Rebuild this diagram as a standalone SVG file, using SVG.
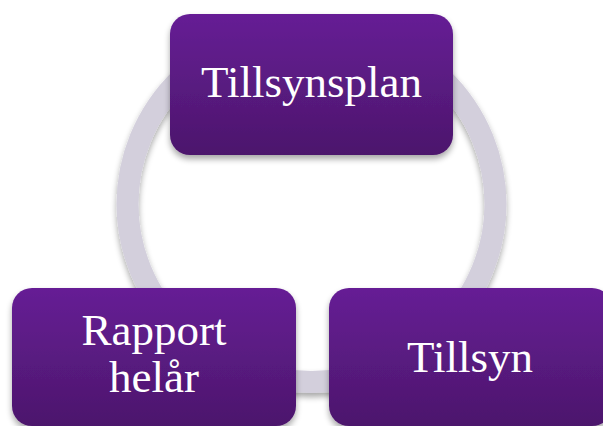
<svg xmlns="http://www.w3.org/2000/svg" width="603" height="426" viewBox="0 0 603 426">
<defs>
<linearGradient id="boxGrad" x1="0" y1="0" x2="0" y2="1">
<stop offset="0" stop-color="#661f95"/>
<stop offset="1" stop-color="#4c166c"/>
</linearGradient>
<filter id="shadow" x="-10%" y="-10%" width="120%" height="130%">
<feGaussianBlur in="SourceAlpha" stdDeviation="3"/>
<feOffset dx="0" dy="4" result="b"/>
<feComponentTransfer><feFuncA type="linear" slope="0.35"/></feComponentTransfer>
<feMerge><feMergeNode/><feMergeNode in="SourceGraphic"/></feMerge>
</filter>
</defs>
<style>
.box{fill:url(#boxGrad);filter:url(#shadow);}
.lbl{fill:#ffffff;font-family:"Liberation Serif","DejaVu Serif",serif;font-size:45px;text-anchor:middle;}
.ring{fill:none;stroke:#d3cfdc;stroke-width:22;filter:url(#shadow);}
</style>
<rect width="603" height="426" fill="#ffffff"/>
<g id="connectors">
<ellipse class="ring" cx="311.5" cy="204" rx="184" ry="178"/>
</g>
<g id="node-tillsynsplan">
<rect class="box" x="170" y="14" width="283" height="141" rx="20"/>
<text class="lbl" x="311.5" y="97">Tillsynsplan</text>
</g>
<g id="node-tillsyn">
<rect class="box" x="329" y="288" width="283" height="138" rx="20"/>
<text class="lbl" x="470" y="372">Tillsyn</text>
</g>
<g id="node-rapport">
<rect class="box" x="12" y="288" width="284" height="138" rx="20"/>
<text class="lbl" x="154" y="345">Rapport</text>
<text class="lbl" x="154" y="392">helår</text>
</g>
</svg>
